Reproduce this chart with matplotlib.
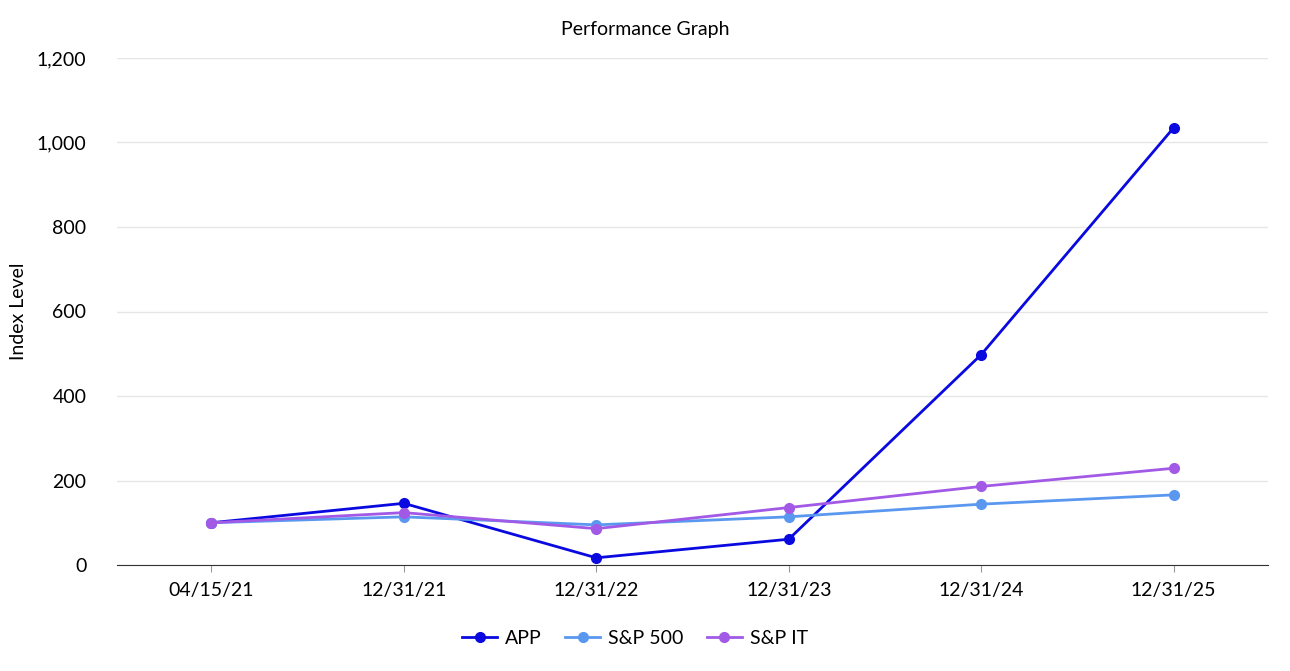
import matplotlib
matplotlib.use("Agg")
import matplotlib.pyplot as plt
from matplotlib.ticker import FuncFormatter

plt.rcParams['font.family'] = ['Lato', 'DejaVu Sans']

dates = ["04/15/21", "12/31/21", "12/31/22", "12/31/23", "12/31/24", "12/31/25"]
app = [100, 146, 17, 61, 498, 1035]
sp500 = [100, 114, 95, 114, 144, 166]
spit = [100, 124, 86, 136, 186, 229]

fig = plt.figure(figsize=(12.9, 6.71), dpi=100)
ax = fig.add_axes([117/1290, 1-565/671, (1268-117)/1290, (565-58)/671])

x = list(range(len(dates)))
ax.plot(x, app, color='#0a0ae0', lw=2, marker='o', ms=7, label='APP', zorder=3)
ax.plot(x, sp500, color='#5a98f0', lw=2, marker='o', ms=7, label='S&P 500', zorder=3)
ax.plot(x, spit, color='#a25ae6', lw=2, marker='o', ms=7, label='S&P IT', zorder=4)

ax.set_xlim(-0.49, 5.49)
ax.set_ylim(0, 1200)
ax.set_yticks(range(0, 1201, 200))
ax.yaxis.set_major_formatter(FuncFormatter(lambda v, p: f"{int(v):,}"))
ax.set_xticks(x)
ax.set_xticklabels(dates)
ax.grid(axis='y', color='#e6e6e6', lw=1)
ax.set_axisbelow(True)
for s in ['top', 'right', 'left']:
    ax.spines[s].set_visible(False)
ax.spines['bottom'].set_color('#333333')
ax.tick_params(axis='y', length=0, labelsize=14, pad=22, colors='black')
ax.tick_params(axis='x', length=5, color='#999999', labelsize=14, pad=7)
ax.set_ylabel('Index Level', fontsize=14)
ax.yaxis.set_label_coords((27 - 117) / 1151, 0.5)
fig.text(0.5, 1-29/671, 'Performance Graph', ha='center', va='center', fontsize=14)
fig.legend(loc='center', bbox_to_anchor=(635/1290, 1-638/671), ncol=3, frameon=False,
           fontsize=14, handlelength=1.8, columnspacing=1.2, handletextpad=0.4)

fig.savefig('out.png', dpi=100)
